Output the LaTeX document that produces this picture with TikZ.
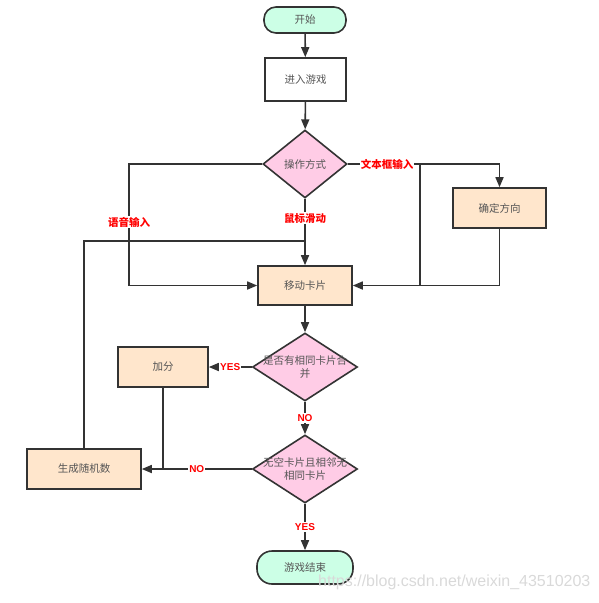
\documentclass[tikz,border=0pt]{standalone}
\usepackage{fontspec}
\setmainfont{Liberation Sans}
\newfontfamily\cjk{Noto Sans CJK SC}
\usetikzlibrary{shapes.geometric,arrows.meta}
\definecolor{mint}{HTML}{CCFFE6}
\definecolor{peach}{HTML}{FFE6CC}
\definecolor{pinkf}{HTML}{FFCCE6}
\definecolor{edge}{HTML}{333333}
\definecolor{txt}{HTML}{555555}
\definecolor{redl}{HTML}{FF0000}
\begin{document}
\begin{tikzpicture}[x=1pt,y=-1pt,
  base/.style={draw=edge,line width=1.6pt,text=txt,font=\cjk\fontsize{10.5}{13}\selectfont,inner sep=0pt},
  term/.style={base,fill=mint,rounded corners=12pt,minimum width=82pt,minimum height=26pt},
  proc/.style={base,fill=peach},
  dec/.style={base,fill=pinkf,diamond,minimum width=#1,minimum height=68pt},
  dec/.default=84pt,
  dectext/.style={text=txt,font=\cjk\fontsize{10.5}{13}\selectfont,align=center,inner sep=0pt},
  line/.style={draw=edge,line width=1.6pt},
  arr/.style={line,-{Triangle[length=10pt,width=8pt]}},
  lbl/.style={fill=white,text=redl,font=\cjk\bfseries\fontsize{10.5}{12}\selectfont,inner sep=1pt},
  yn/.style={fill=white,text=redl,font=\bfseries\fontsize{10}{12}\selectfont,inner sep=1pt}
]
\useasboundingbox (0,0) rectangle (599,603);
% nodes
\node[term] (start) at (305,20) {开始};
\node[base,fill=white,minimum width=81pt,minimum height=43pt] (enter) at (305.5,79.5) {进入游戏};
\node[dec] (op) at (305,164) {};
\node[dectext] (optext) at (op.center) {操作方式};
\node[proc,minimum width=93pt,minimum height=40pt] (dir) at (499.5,208) {确定方向};
\node[proc,minimum width=94pt,minimum height=39pt] (move) at (305,285.5) {移动卡片};
\node[dec=105pt] (q1) at (305,367) {};
\node[dectext] (q1text) at (q1.center) {是否有相同卡片合\\并};
\node[proc,minimum width=90pt,minimum height=40pt] (add) at (163,367) {加分};
\node[dec=105pt] (q2) at (305,469) {};
\node[dectext] (q2text) at (q2.center) {无空卡片且相邻无\\相同卡片};
\node[proc,minimum width=114pt,minimum height=40pt] (gen) at (84,469) {生成随机数};
\node[term,minimum width=96pt,minimum height=33pt,rounded corners=15pt] (end) at (305,567.5) {游戏结束};
% helper coordinates
\coordinate (vl1) at (129,164);
\coordinate (vl2) at (129,285.5);
\coordinate (rj1) at (420,164);
\coordinate (rj2) at (420,285.5);
\coordinate (mj) at (305,241);
% connectors
\draw[arr] (start) -- (enter);
\draw[arr] (enter) -- (op);
\draw[arr] (op.west) -- (vl1) -- node[lbl,pos=0.48] {语音输入} (vl2) -- (move.west);
\draw[arr] (op.south) -- node[lbl,pos=0.29] {鼠标滑动} (move.north);
\draw[arr] (op.east) -| (dir.north);
\draw[line] (rj1) -- (rj2);
\draw[arr] (dir.south) |- (move.east);
\node[lbl] (lbltext) at (387,164) {文本框输入};
\draw[arr] (move) -- (q1);
\draw[arr] (q1.west) -- node[yn] {YES} (add.east);
\draw[arr] (q1.south) -- node[yn] {NO} (q2.north);
\draw[line] (add.south) -- (add.south |- gen.east);
\draw[arr] (q2.west) -- node[yn,pos=0.5] {NO} (gen.east);
\draw[line] (gen.north) |- (mj);
\draw[arr] (q2.south) -- node[yn] {YES} (end.north);
\node[text=black!15,font=\fontsize{16}{18}\selectfont,anchor=west,inner sep=0pt] (wm) at (318,582) {https://blog.csdn.net/weixin\_43510203};
\end{tikzpicture}
\end{document}
